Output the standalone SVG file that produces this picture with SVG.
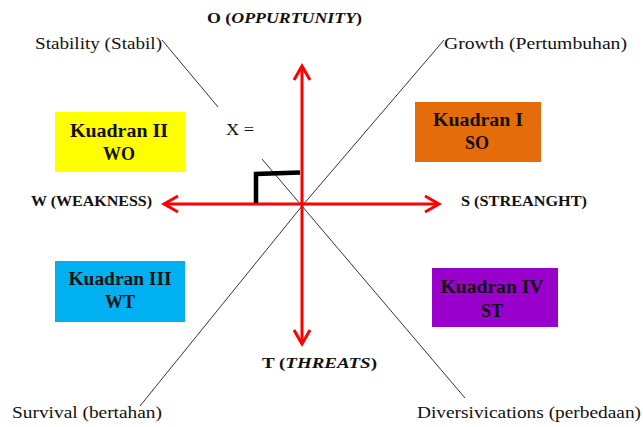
<svg xmlns="http://www.w3.org/2000/svg" width="643" height="427" viewBox="0 0 643 427">
  <defs>
    <marker id="chev" viewBox="-16 -10 20 20" markerWidth="20" markerHeight="20" refX="0" refY="0" markerUnits="userSpaceOnUse" orient="auto-start-reverse">
      <path d="M-14,-8 L0,0 L-14,8" fill="none" stroke="#ff0000" stroke-width="3"/>
    </marker>
    <style>
      .lbl { font-family: "Liberation Serif", "Times New Roman", serif; font-size: 16px; fill: #111; }
      .axis { font-family: "Liberation Serif", "Times New Roman", serif; font-size: 15px; font-weight: bold; fill: #111; }
      .quad { font-family: "Liberation Serif", "Times New Roman", serif; font-size: 18px; font-weight: bold; fill: #111; text-anchor: middle; }
      .thin { stroke: #333; stroke-width: 1; fill: none; }
      .red { stroke: #ff0000; stroke-width: 3; fill: none; marker-start: url(#chev); marker-end: url(#chev); }
    </style>
  </defs>
  <rect width="643" height="427" fill="#ffffff"/>

  <g id="connectors">
    <!-- strategy lines -->
    <line class="thin" x1="162" y1="40" x2="218" y2="107"/>
    <line class="thin" x1="262" y1="159" x2="465" y2="398"/>
    <polyline class="thin" points="444,40 302,206 140,406"/>
    <!-- SWOT axes -->
    <line class="red" x1="302" y1="344" x2="302" y2="66"/>
    <line class="red" x1="164" y1="204" x2="439" y2="204"/>
    <!-- right-angle mark -->
    <polyline points="256,203 256,174 300,172.5" fill="none" stroke="#000" stroke-width="4.5"/>
  </g>

  <g id="quadrant-1">
    <rect x="415" y="102" width="126" height="60" fill="#e46c0a"/>
    <text class="quad" x="478" y="126" textLength="90" lengthAdjust="spacingAndGlyphs">Kuadran I</text>
    <text class="quad" x="477" y="149">SO</text>
  </g>
  <g id="quadrant-2">
    <rect x="55" y="112" width="130" height="60" fill="#ffff00"/>
    <text class="quad" x="119" y="137" textLength="98" lengthAdjust="spacingAndGlyphs">Kuadran II</text>
    <text class="quad" x="119" y="160">WO</text>
  </g>
  <g id="quadrant-3">
    <rect x="55" y="261" width="130" height="61" fill="#00b0f0"/>
    <text class="quad" x="120" y="285" textLength="103" lengthAdjust="spacingAndGlyphs">Kuadran III</text>
    <text class="quad" x="120" y="308">WT</text>
  </g>
  <g id="quadrant-4">
    <rect x="432" y="268" width="126" height="59" fill="#9900cc"/>
    <text class="quad" x="492" y="293" textLength="103" lengthAdjust="spacingAndGlyphs">Kuadran IV</text>
    <text class="quad" x="492" y="317">ST</text>
  </g>

  <g id="axis-labels">
    <text class="axis" x="207" y="23" textLength="155" lengthAdjust="spacingAndGlyphs">O (<tspan font-style="italic">OPPURTUNITY</tspan>)</text>
    <text class="axis" x="31" y="206" textLength="121" lengthAdjust="spacingAndGlyphs">W (WEAKNESS)</text>
    <text class="axis" x="461" y="206" textLength="126" lengthAdjust="spacingAndGlyphs">S (STREANGHT)</text>
    <text class="axis" x="262" y="368" textLength="115" lengthAdjust="spacingAndGlyphs">T (<tspan font-style="italic">THREATS</tspan>)</text>
  </g>

  <g id="strategy-labels">
    <text class="lbl" x="35" y="49" textLength="127" lengthAdjust="spacingAndGlyphs">Stability (Stabil)</text>
    <text class="lbl" x="444" y="49" textLength="183" lengthAdjust="spacingAndGlyphs">Growth (Pertumbuhan)</text>
    <text class="lbl" x="12" y="418" textLength="150" lengthAdjust="spacingAndGlyphs">Survival (bertahan)</text>
    <text class="lbl" x="417" y="418" textLength="224" lengthAdjust="spacingAndGlyphs">Diversivications (perbedaan)</text>
    <text class="lbl" x="226" y="135" textLength="28" lengthAdjust="spacingAndGlyphs">X =</text>
  </g>
</svg>
